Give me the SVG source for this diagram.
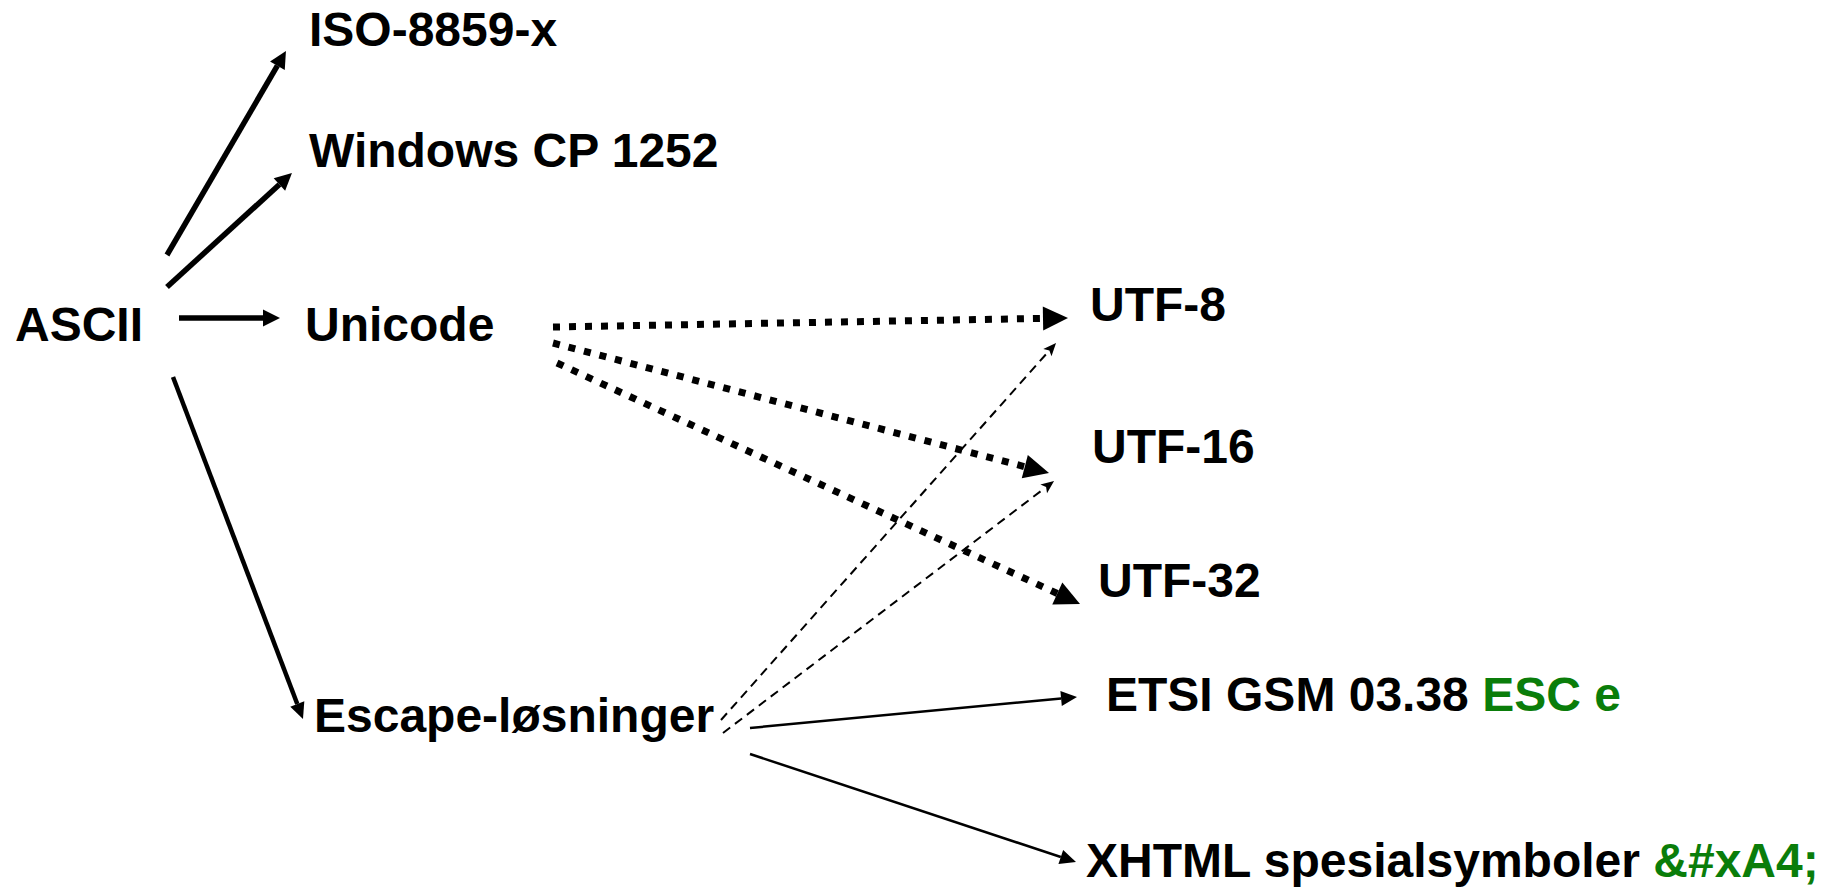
<svg xmlns="http://www.w3.org/2000/svg" width="1830" height="888" viewBox="0 0 1830 888">
<style>
  text { font-family: "Liberation Sans", Arial, sans-serif; font-weight: bold; font-size: 48px; fill: #000; }
  .green { fill: #0a7d0a; }
  .thick { stroke: #000; stroke-width: 5.5; fill: none; }
  .med { stroke: #000; stroke-width: 4.5; fill: none; }
  .dot { stroke: #000; stroke-width: 7; stroke-dasharray: 7 9; fill: none; }
  .dash { stroke: #000; stroke-width: 2; stroke-dasharray: 9 6; fill: none; }
  .thin { stroke: #000; stroke-width: 2.5; fill: none; }
</style>
<defs>
  <marker id="mThick" markerUnits="userSpaceOnUse" orient="auto" refX="0" refY="0" markerWidth="20" markerHeight="20" viewBox="0 -10 20 20" overflow="visible">
    <path d="M0,-8.5 L17,0 L0,8.5 z" fill="#000"/>
  </marker>
  <marker id="mDot" markerUnits="userSpaceOnUse" orient="auto" refX="0" refY="0" markerWidth="30" markerHeight="30" viewBox="0 -15 30 30" overflow="visible">
    <path d="M0,-12 L25,0 L0,12 z" fill="#000"/>
  </marker>
  <marker id="mThin" markerUnits="userSpaceOnUse" orient="auto" refX="0" refY="0" markerWidth="20" markerHeight="20" viewBox="0 -10 20 20" overflow="visible">
    <path d="M0,-7.5 L16,0 L0,7.5 z" fill="#000"/>
  </marker>
  <marker id="mDash" markerUnits="userSpaceOnUse" orient="auto" refX="0" refY="0" markerWidth="16" markerHeight="16" viewBox="0 -8 16 16" overflow="visible">
    <path d="M0,-5.5 L13,0 L0,5.5 L3,0 z" fill="#000"/>
  </marker>
</defs>

<g id="connectors">
  <line class="thick" x1="167" y1="255" x2="277.4" y2="65.7" marker-end="url(#mThick)"/>
  <line class="thick" x1="167" y1="287" x2="279.4" y2="184.5" marker-end="url(#mThick)"/>
  <line class="thick" x1="179" y1="318" x2="263" y2="318" marker-end="url(#mThick)"/>
  <line class="med" x1="173" y1="377" x2="297.3" y2="704" marker-end="url(#mThin)"/>
  <line class="dot" x1="553" y1="327" x2="1043" y2="318.4" marker-end="url(#mDot)"/>
  <line class="dot" x1="553" y1="343" x2="1024.8" y2="466.7" marker-end="url(#mDot)"/>
  <line class="dot" x1="557" y1="363" x2="1057.3" y2="593.5" marker-end="url(#mDot)"/>
  <line class="dash" x1="721" y1="720" x2="1047.4" y2="352.7" marker-end="url(#mDash)"/>
  <line class="dash" x1="723" y1="733" x2="1043.7" y2="488.9" marker-end="url(#mDash)"/>
  <line class="thin" x1="750" y1="728" x2="1061.1" y2="698.5" marker-end="url(#mThin)"/>
  <line class="thin" x1="750" y1="754" x2="1060.8" y2="857" marker-end="url(#mThin)"/>
</g>

<g id="ascii"><text x="15" y="341">ASCII</text></g>
<g id="iso"><text x="309" y="46">ISO-8859-x</text></g>
<g id="windows"><text x="309" y="167">Windows CP 1252</text></g>
<g id="unicode"><text x="305" y="341">Unicode</text></g>
<g id="escape"><text x="314" y="732">Escape-løsninger</text></g>
<g id="utf8"><text x="1090" y="321">UTF-8</text></g>
<g id="utf16"><text x="1092" y="463">UTF-16</text></g>
<g id="utf32"><text x="1098" y="597">UTF-32</text></g>
<g id="etsi"><text x="1106" y="711">ETSI GSM 03.38 <tspan class="green">ESC e</tspan></text></g>
<g id="xhtml"><text x="1086" y="877">XHTML spesialsymboler <tspan class="green">&amp;#xA4;</tspan></text></g>
</svg>
